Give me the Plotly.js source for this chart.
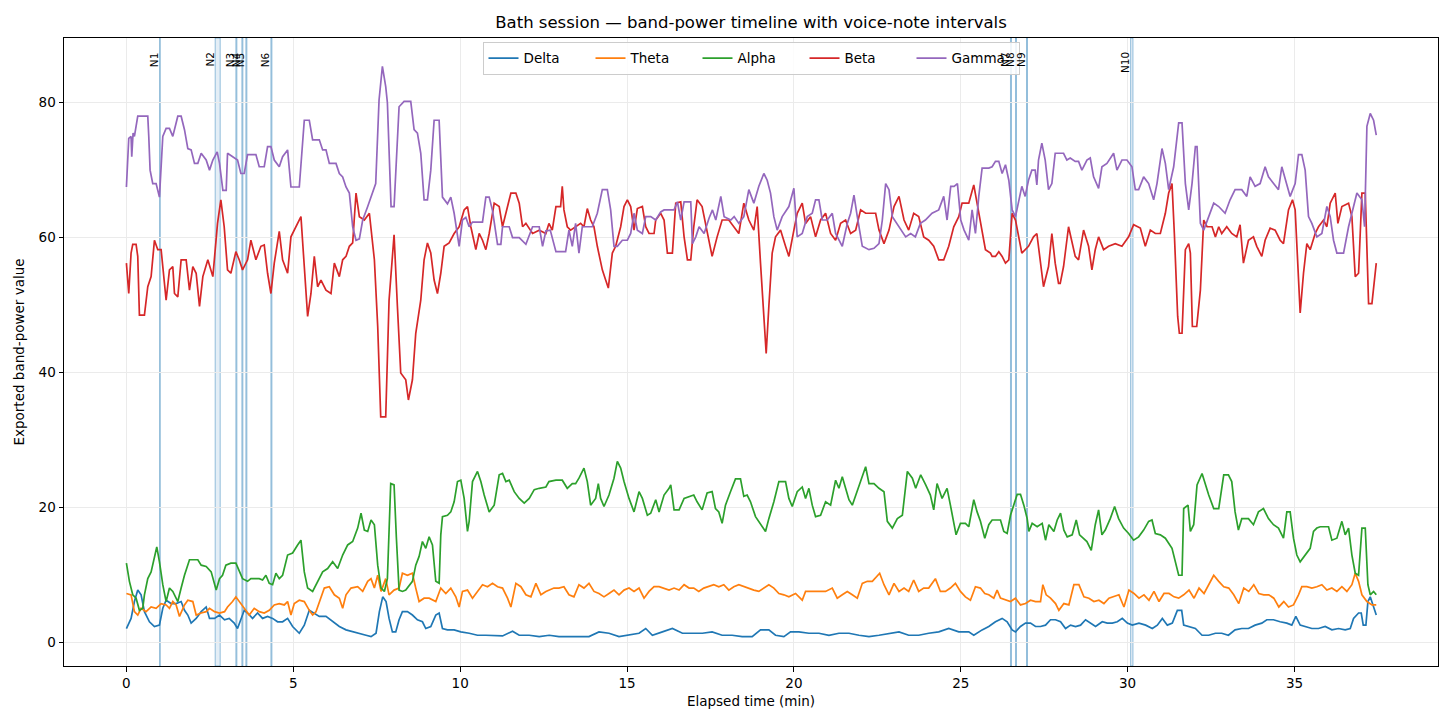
<!DOCTYPE html>
<html>
<head>
<meta charset="utf-8">
<script src="https://cdn.plot.ly/plotly-3.0.1.min.js"></script>
<style>html,body{margin:0;padding:0;background:#fff;}#chart{width:1456px;height:728px;}</style>
</head>
<body>
<div id="chart"></div>
<script>
// ---- data: [elapsed minutes, exported band-power value] ----
const deltaPts = [[0,2],[0.14,3.5],[0.24,6],[0.34,7.7],[0.44,7],[0.54,4.5],[0.69,3],[0.84,2.3],[0.99,2.5],[1.09,5],[1.19,6.2],[1.34,5.7],[1.49,5.7],[1.64,6],[1.74,4.7],[1.84,4],[1.94,2.8],[2.09,3.5],[2.24,4.5],[2.39,5.2],[2.49,3.5],[2.64,3.5],[2.79,4],[2.94,3.3],[3.08,3.5],[3.23,2.8],[3.33,2],[3.43,3.5],[3.53,4.7],[3.63,4.3],[3.78,3.5],[3.93,4.3],[4.08,3.5],[4.23,3.8],[4.38,3.5],[4.53,3],[4.68,3],[4.83,3.5],[4.98,2.3],[5.18,1.3],[5.33,2.5],[5.48,4.7],[5.63,4.3],[5.78,3.8],[5.98,3.8],[6.18,3],[6.38,2.3],[6.58,1.8],[6.78,1.5],[6.98,1.3],[7.18,1],[7.33,0.8],[7.48,1.3],[7.58,4.5],[7.68,6.7],[7.78,6],[7.87,3.5],[7.97,1.5],[8.07,1.5],[8.17,3.3],[8.27,4.5],[8.42,4.5],[8.57,4],[8.72,3.3],[8.87,3],[8.97,2],[9.12,2.3],[9.27,4],[9.37,4.3],[9.47,2],[9.62,1.8],[9.82,1.8],[10.02,1.5],[10.27,1.3],[10.52,1],[10.77,1],[11.07,1],[11.27,0.9],[11.57,1.6],[11.77,1],[12.07,1],[12.37,0.8],[12.67,1],[12.96,0.8],[13.26,0.8],[13.56,0.8],[13.86,0.8],[14.16,1.5],[14.46,1.3],[14.76,0.8],[15.06,1],[15.36,1.3],[15.56,2],[15.76,1],[16.06,1.5],[16.36,2],[16.66,1.3],[16.96,1.3],[17.26,1.3],[17.55,1.5],[17.85,1],[18.15,1],[18.45,0.8],[18.75,0.8],[19.0,1.8],[19.25,1.8],[19.45,1],[19.7,0.8],[19.9,1.5],[20.15,1.5],[20.45,1.3],[20.75,1.3],[21.05,1],[21.35,1.3],[21.65,1.3],[21.95,1],[22.25,0.8],[22.55,1],[22.85,1.3],[23.15,1.5],[23.44,1],[23.74,1],[24.04,1.3],[24.34,1.5],[24.64,2],[24.94,1.5],[25.24,1.5],[25.39,1],[25.64,1.8],[25.84,2.3],[26.04,3],[26.24,3.5],[26.39,3],[26.54,1.8],[26.64,1.5],[26.79,2.3],[26.94,2.8],[27.09,2.8],[27.24,2.3],[27.39,2.3],[27.54,2.5],[27.69,3.3],[27.84,3.3],[27.99,3],[28.14,2],[28.29,2.5],[28.44,2.3],[28.59,2.5],[28.74,3.3],[28.89,2.8],[29.04,2.3],[29.24,3],[29.39,2.8],[29.54,2.8],[29.69,3],[29.84,3.5],[29.99,2.8],[30.14,2.5],[30.34,2.8],[30.54,2.5],[30.74,2],[30.89,2.5],[31.04,3.5],[31.19,2.5],[31.34,2.8],[31.49,4.7],[31.62,4.7],[31.68,2.5],[31.83,2.3],[32.03,2],[32.23,1],[32.43,1],[32.63,1.3],[32.82,1.3],[33.02,1],[33.22,1.8],[33.42,2],[33.62,2],[33.82,2.5],[34.02,2.8],[34.17,3.3],[34.37,3.3],[34.57,3],[34.77,2.8],[34.92,2.5],[35.04,3.8],[35.17,2.5],[35.32,2.3],[35.52,2],[35.72,2],[35.92,2.3],[36.12,1.8],[36.32,2],[36.52,1.8],[36.67,2],[36.77,3.5],[36.92,4.3],[37.0,4.3],[37.06,2.5],[37.14,2.5],[37.2,6],[37.27,6.7],[37.37,5],[37.45,4]];

const thetaPts = [[0,7.2],[0.14,7],[0.24,4.5],[0.34,4],[0.44,5],[0.59,4.5],[0.74,5.2],[0.89,5],[1.04,5.7],[1.19,5.5],[1.29,5],[1.39,6],[1.49,5.5],[1.59,3.8],[1.74,5.5],[1.84,6.2],[1.99,6],[2.09,4],[2.24,4.3],[2.39,4.5],[2.49,5],[2.64,4.5],[2.79,4.3],[2.94,4.5],[3.03,5.2],[3.18,6],[3.28,6.7],[3.38,6],[3.53,5],[3.68,4],[3.83,5],[3.98,4.5],[4.13,4.3],[4.28,4.7],[4.43,5.5],[4.58,5.7],[4.73,5.5],[4.83,6],[4.93,4],[5.03,5.7],[5.18,6.2],[5.33,6],[5.48,4.7],[5.58,4],[5.68,4.5],[5.78,6],[5.93,8],[6.08,8.2],[6.23,7],[6.38,6.5],[6.48,5],[6.58,7],[6.73,8],[6.93,8.2],[7.08,7.5],[7.23,9],[7.33,9.4],[7.43,8],[7.53,9.9],[7.63,7.5],[7.77,9.4],[7.87,7],[8.02,7.7],[8.17,8],[8.27,10.2],[8.42,9.9],[8.57,10.2],[8.67,8],[8.77,6],[8.92,6.5],[9.07,6.5],[9.27,6],[9.42,8],[9.57,7.2],[9.72,8],[9.87,6.7],[9.97,5.2],[10.07,7.5],[10.22,7.7],[10.37,6.5],[10.52,7.5],[10.67,8.5],[10.82,8.2],[10.97,8.7],[11.12,8.2],[11.27,8],[11.42,6.5],[11.52,5.2],[11.67,8.7],[11.82,8.2],[11.97,7],[12.12,6.7],[12.27,8.7],[12.42,7],[12.57,7.5],[12.81,8],[12.96,8],[13.11,8.2],[13.26,7],[13.41,6.7],[13.56,8.5],[13.71,8],[13.86,8.7],[14.01,7.5],[14.16,7.2],[14.31,6.7],[14.46,7.2],[14.61,7.7],[14.76,7],[14.91,7.7],[15.06,8],[15.21,7.5],[15.36,8],[15.51,6.5],[15.66,7.5],[15.81,8.2],[15.96,8.2],[16.11,8],[16.26,7.7],[16.41,8],[16.56,7.7],[16.71,8.5],[16.86,8],[17.0,8],[17.15,7.5],[17.3,8],[17.45,8.2],[17.6,8.5],[17.75,8.2],[17.9,8.5],[18.05,7.7],[18.2,8.2],[18.35,8.5],[18.5,8.2],[18.65,8],[18.8,7.7],[18.95,7.5],[19.1,8],[19.25,8.5],[19.4,8],[19.55,7.2],[19.7,7],[19.85,6.7],[20.05,7.2],[20.25,6.2],[20.35,7.5],[20.55,7.5],[20.75,7.5],[20.95,7.5],[21.15,8],[21.3,6.5],[21.45,7],[21.6,7.5],[21.75,7],[21.9,6.5],[22.05,8.7],[22.2,9],[22.35,9],[22.5,9.9],[22.57,10.2],[22.7,8.5],[22.85,7],[23.0,8.7],[23.15,7.5],[23.3,8],[23.44,7.5],[23.59,9.2],[23.74,7.5],[23.89,8],[24.04,8],[24.24,9.4],[24.39,7.5],[24.54,7.5],[24.69,8],[24.84,8.7],[24.99,7.5],[25.14,6.7],[25.29,6.2],[25.44,8.2],[25.59,8],[25.72,7.2],[25.84,7],[25.99,6.5],[26.09,7.7],[26.19,6.5],[26.34,6.2],[26.49,6],[26.64,6.5],[26.79,5.5],[26.94,5.7],[27.09,6.2],[27.24,6],[27.39,6],[27.46,8.5],[27.56,7],[27.69,6.5],[27.84,5.7],[27.94,4.7],[28.09,5.7],[28.24,5.5],[28.39,8.5],[28.54,8.5],[28.69,6.7],[28.84,6.5],[28.99,6],[29.14,6.2],[29.29,5.7],[29.44,6.5],[29.59,6.7],[29.74,7],[29.89,5.2],[30.04,7.7],[30.19,7.2],[30.34,6.5],[30.49,7],[30.64,6.2],[30.79,7.5],[30.94,6],[31.09,7.2],[31.24,7.2],[31.39,6.7],[31.53,6.5],[31.68,7],[31.84,7.7],[31.99,6.5],[32.14,8],[32.29,7.2],[32.44,8.7],[32.58,9.9],[32.73,9],[32.88,8.2],[33.03,8],[33.18,7],[33.33,5.7],[33.48,8],[33.63,7.5],[33.78,8.5],[33.93,7.2],[34.08,7],[34.23,7],[34.38,6.5],[34.53,5.2],[34.68,6],[34.82,5.2],[34.97,5.5],[35.12,7],[35.22,8.2],[35.37,8.2],[35.52,8],[35.67,8.2],[35.82,8.5],[35.97,7.7],[36.12,8],[36.27,7.5],[36.42,8.2],[36.57,7.5],[36.72,8.5],[36.82,10.2],[36.92,9],[37.02,7],[37.17,6],[37.32,5.5],[37.45,5.5]];

const alphaPts = [[0,11.7],[0.09,9],[0.19,7],[0.29,6.5],[0.39,4.7],[0.49,5],[0.54,7],[0.64,9.4],[0.74,10.4],[0.84,12.9],[0.91,14.1],[0.99,11.9],[1.09,8.5],[1.19,6],[1.29,8],[1.39,7.5],[1.54,6],[1.64,8],[1.74,9.9],[1.89,12.2],[2.14,12.2],[2.24,11.4],[2.39,11.2],[2.54,10.4],[2.69,7.7],[2.79,9.4],[2.88,9.9],[2.98,11.4],[3.13,11.7],[3.28,11.7],[3.38,10.4],[3.48,9.4],[3.63,9],[3.73,9.4],[3.98,9.4],[4.08,9.2],[4.18,9.9],[4.28,8.7],[4.38,8.5],[4.48,10.2],[4.58,9.4],[4.68,9.9],[4.83,12.9],[4.98,13.2],[5.13,14.4],[5.23,15.1],[5.33,10.4],[5.43,8],[5.58,7.5],[5.73,9],[5.88,10.4],[6.03,10.9],[6.18,11.9],[6.33,10.9],[6.48,12.9],[6.63,14.4],[6.78,14.9],[6.93,16.9],[7.03,19.1],[7.13,16.6],[7.23,16.4],[7.33,18.1],[7.43,17.4],[7.53,11.4],[7.63,8],[7.73,7.5],[7.82,9.4],[7.92,23.5],[8.02,23.3],[8.09,15.4],[8.17,7.7],[8.27,7.5],[8.37,7.7],[8.57,9],[8.67,11.4],[8.77,12.7],[8.87,14.9],[8.97,13.9],[9.07,15.6],[9.17,14.4],[9.27,9],[9.37,8.7],[9.42,15.9],[9.47,18.6],[9.62,18.8],[9.72,19.3],[9.82,20.8],[9.92,23.8],[10.02,24],[10.12,21.3],[10.22,16.4],[10.27,17.9],[10.37,23.8],[10.52,25.3],[10.62,23.8],[10.72,21.8],[10.87,19.3],[11.02,20.3],[11.17,24.8],[11.27,25],[11.37,23.8],[11.47,24],[11.62,22.3],[11.77,21.3],[11.92,20.6],[12.07,21.3],[12.22,22.6],[12.37,22.8],[12.57,23],[12.66,23.8],[12.87,24],[13.06,24],[13.21,22.8],[13.36,23.5],[13.46,23.5],[13.56,24.3],[13.71,25.8],[13.81,23.8],[13.91,20.3],[14.06,21.3],[14.14,23.5],[14.21,21.3],[14.31,20.1],[14.46,21.8],[14.61,24.3],[14.71,26.8],[14.81,25.8],[14.91,23.8],[15.06,21.3],[15.21,19.3],[15.36,22.3],[15.46,21.3],[15.61,18.8],[15.71,19.1],[15.86,21.1],[15.96,19.3],[16.11,21.8],[16.26,22.8],[16.31,23.3],[16.41,19.6],[16.56,19.6],[16.71,21.3],[16.86,21.6],[17.0,21.8],[17.1,20.8],[17.25,19.6],[17.4,22.1],[17.55,22.3],[17.65,19.8],[17.75,19.3],[17.85,17.6],[17.95,20.3],[18.1,22.3],[18.25,24.2],[18.4,24.2],[18.5,21.6],[18.6,21.8],[18.7,20.8],[18.85,18.6],[19.0,17.4],[19.15,16.4],[19.25,18.3],[19.4,20.8],[19.55,23.8],[19.75,23.8],[19.85,21.3],[19.95,20.1],[20.1,22.3],[20.25,23],[20.35,21.3],[20.45,22.8],[20.55,20.3],[20.65,18.6],[20.8,18.8],[20.95,20.8],[21.1,20.3],[21.25,24],[21.35,22.8],[21.45,24.5],[21.55,22.8],[21.65,21.1],[21.75,20.3],[21.85,21.8],[22.0,23.8],[22.15,26],[22.25,23.5],[22.4,23.5],[22.55,22.8],[22.7,22.3],[22.8,17.9],[22.95,16.9],[23.1,18.3],[23.25,18.8],[23.4,25.3],[23.55,24.3],[23.65,22.8],[23.8,24.8],[23.95,23.3],[24.09,21.8],[24.19,19.6],[24.29,23.5],[24.44,21.3],[24.59,22.8],[24.69,20.3],[24.79,17.9],[24.86,15.9],[24.99,17.6],[25.14,17.6],[25.24,17.1],[25.39,21.1],[25.49,19.3],[25.59,17.9],[25.72,15.4],[25.84,17.4],[25.94,18.1],[26.19,18.1],[26.29,16.4],[26.39,16.1],[26.49,18.8],[26.59,20.3],[26.69,21.9],[26.79,21.9],[26.89,20.3],[26.99,18.3],[27.04,16.4],[27.14,17.6],[27.29,17.1],[27.44,17.6],[27.54,15.1],[27.64,17.4],[27.79,16.4],[27.89,18.1],[27.99,19.1],[28.09,16.6],[28.19,15.6],[28.34,15.9],[28.46,18.1],[28.56,15.9],[28.68,15.4],[28.78,14.9],[28.91,13.6],[29.03,17.4],[29.13,19.6],[29.23,15.9],[29.33,16.6],[29.48,18.3],[29.61,20.1],[29.73,18.3],[29.88,16.9],[30.03,16.1],[30.18,15.1],[30.33,15.6],[30.48,16.6],[30.63,17.9],[30.73,18.1],[30.83,16.1],[30.98,15.9],[31.13,15.4],[31.33,13.9],[31.43,11.9],[31.53,9.9],[31.63,9.9],[31.68,19.8],[31.81,20.3],[31.88,16.4],[31.98,17.4],[32.08,23.3],[32.23,25],[32.33,23.3],[32.43,21.8],[32.58,19.8],[32.73,19.8],[32.88,24.8],[33.02,24.8],[33.12,23.8],[33.22,19.3],[33.32,16.6],[33.42,18.3],[33.62,18.3],[33.77,17.4],[33.92,19.3],[34.07,19.8],[34.22,18.3],[34.37,17.4],[34.52,16.9],[34.67,15.4],[34.77,19.3],[34.87,19.3],[34.97,15.4],[35.07,12.9],[35.17,11.9],[35.32,12.9],[35.47,13.9],[35.57,16.4],[35.67,16.9],[35.77,17.1],[36.02,17.1],[36.12,15.1],[36.27,15.4],[36.42,17.9],[36.52,15.9],[36.62,16.9],[36.72,12.9],[36.82,10.2],[36.92,9.9],[37.02,16.9],[37.12,16.9],[37.2,8.5],[37.27,7],[37.37,7.5],[37.45,7]];

const betaPts = [[0,56.2],[0.07,51.7],[0.14,57.7],[0.19,59],[0.29,59],[0.34,57.2],[0.39,48.5],[0.54,48.5],[0.64,52.7],[0.74,54.2],[0.84,59.6],[0.94,58.2],[1.04,58.2],[1.14,53.7],[1.19,50.7],[1.29,55.2],[1.39,55.7],[1.44,51.7],[1.54,51.2],[1.64,56.7],[1.79,56.7],[1.89,52.2],[1.99,55.7],[2.09,54.7],[2.19,49.8],[2.29,54.2],[2.44,56.7],[2.59,54.2],[2.73,62.1],[2.83,65.6],[2.93,61.6],[3.03,55.2],[3.13,54.7],[3.28,57.9],[3.38,56.7],[3.48,55.2],[3.63,56.7],[3.73,59.6],[3.88,56.7],[4.03,58.7],[4.13,58.9],[4.23,54.7],[4.33,51.7],[4.43,56.2],[4.58,60.9],[4.68,56.7],[4.83,54.7],[4.93,60.1],[5.08,61.6],[5.23,63.1],[5.33,55.7],[5.43,48.3],[5.53,51.7],[5.63,57.2],[5.73,52.7],[5.83,53.7],[5.98,52.2],[6.13,51.7],[6.23,56.2],[6.38,54.2],[6.48,56.7],[6.58,57.2],[6.68,58.7],[6.78,59.2],[6.88,66.6],[6.98,63.1],[7.13,62.6],[7.28,63.6],[7.43,56.7],[7.53,46.8],[7.62,33.4],[7.77,33.4],[7.87,50.7],[8.02,60.4],[8.12,49.8],[8.22,39.9],[8.37,38.9],[8.45,35.9],[8.57,38.9],[8.67,45.8],[8.82,50.7],[8.92,56.7],[9.02,59.2],[9.12,57.7],[9.22,53.7],[9.32,51.7],[9.42,54.7],[9.52,58.7],[9.67,59.2],[9.82,60.6],[9.97,61.6],[10.12,64.1],[10.22,64.6],[10.32,61.6],[10.47,58.2],[10.57,60.6],[10.67,59.6],[10.77,58.2],[10.87,60.6],[11.02,65.1],[11.17,64.6],[11.27,61.6],[11.42,64.6],[11.52,66.6],[11.67,66.6],[11.77,65.1],[11.87,61.6],[11.97,62.1],[12.17,60.6],[12.37,61.1],[12.57,60.6],[12.66,62.1],[12.76,61.1],[12.87,64.6],[13.01,64.6],[13.06,67.6],[13.11,64.1],[13.21,61.6],[13.31,61.1],[13.46,61.6],[13.61,62.1],[13.71,61.6],[13.81,64.3],[13.91,62.6],[14.01,61.6],[14.11,58.7],[14.26,55.2],[14.36,53.7],[14.44,52.5],[14.56,57.7],[14.66,58.7],[14.81,61.6],[14.91,64.6],[15.01,65.6],[15.11,64.6],[15.21,61.1],[15.31,64.3],[15.46,64.6],[15.56,61.6],[15.66,60.6],[15.81,60.6],[15.86,62.6],[16.01,63.6],[16.11,62.6],[16.21,57.7],[16.36,57.7],[16.46,65.1],[16.61,65.3],[16.71,60.1],[16.81,56.7],[16.91,56.7],[17.0,61.6],[17.1,65.6],[17.25,64.6],[17.4,61.1],[17.55,57.2],[17.7,60.1],[17.85,62.6],[18.05,62.6],[18.2,61.6],[18.35,60.6],[18.5,65.1],[18.65,62.6],[18.8,61.1],[18.9,64.6],[19.0,56.2],[19.1,47.8],[19.17,42.8],[19.25,49.8],[19.35,57.7],[19.45,60.1],[19.6,61.1],[19.75,58.7],[19.85,57.2],[20.0,61.1],[20.1,63.6],[20.25,65.1],[20.35,62.1],[20.5,63.1],[20.65,60.1],[20.8,62.6],[20.95,63.6],[21.1,60.6],[21.25,59.6],[21.4,62.1],[21.55,62.6],[21.7,60.6],[21.85,61.1],[22.0,64.1],[22.15,63.6],[22.45,63.6],[22.55,61.1],[22.7,59.1],[22.85,61.1],[23.0,64.6],[23.15,66.1],[23.3,62.6],[23.44,61.1],[23.59,63.6],[23.74,63.1],[23.89,60.1],[24.04,59.6],[24.19,58.7],[24.34,56.7],[24.49,56.7],[24.64,58.7],[24.79,61.6],[24.94,63.1],[25.04,65.1],[25.24,65.1],[25.39,67.8],[25.49,65.1],[25.59,62.6],[25.74,58.2],[25.89,57.7],[25.94,57.2],[26.04,57.2],[26.14,57.9],[26.24,57.2],[26.34,56.2],[26.44,56.7],[26.54,63.6],[26.64,62.6],[26.74,59.7],[26.83,57.7],[27.03,58.7],[27.18,60.1],[27.28,60.6],[27.38,56.7],[27.48,52.7],[27.63,55.7],[27.73,60.6],[27.83,56.2],[27.93,53.2],[27.98,53.2],[28.08,55.7],[28.23,61.6],[28.33,59.6],[28.43,57.2],[28.53,56.7],[28.68,61.1],[28.83,58.7],[28.93,55.2],[29.03,58.2],[29.13,60.1],[29.28,58.2],[29.43,58.7],[29.63,59.1],[29.83,58.7],[30.03,60.1],[30.18,61.9],[30.38,61.4],[30.53,58.7],[30.68,61.1],[30.83,60.6],[30.98,60.6],[31.13,63.6],[31.23,66.6],[31.33,68],[31.4,60.6],[31.5,48.3],[31.55,45.8],[31.63,45.8],[31.73,58.2],[31.83,59.1],[31.88,57.7],[31.94,46.8],[32.07,46.8],[32.18,52.2],[32.28,62.6],[32.38,61.6],[32.53,61.6],[32.63,60.1],[32.73,61.6],[32.82,60.6],[32.97,61.6],[33.12,60.6],[33.27,60.1],[33.37,61.9],[33.47,56.2],[33.62,59.6],[33.77,60.1],[33.87,58.7],[34.02,57.2],[34.12,59.6],[34.27,61.4],[34.42,61.1],[34.57,59.6],[34.67,59.1],[34.82,64.1],[34.94,65.6],[35.02,64.1],[35.1,55.7],[35.17,48.8],[35.27,54.7],[35.37,59.1],[35.47,58.2],[35.62,60.6],[35.72,61.6],[35.87,62.6],[35.97,61.6],[36.07,65.1],[36.22,66.6],[36.3,62.1],[36.42,64.6],[36.62,65.1],[36.72,63.1],[36.82,54.2],[36.92,54.7],[37.02,66.6],[37.12,66.6],[37.22,50.2],[37.32,50.2],[37.45,56.2]];

const gammaPts = [[0,67.5],[0.07,74.7],[0.14,75],[0.16,72],[0.2,75.5],[0.24,75],[0.34,78],[0.5,78],[0.64,78],[0.67,75],[0.71,70],[0.79,68],[0.89,68],[0.99,66],[1.09,75],[1.19,76.2],[1.29,76.2],[1.39,75],[1.54,78],[1.64,78],[1.74,76],[1.84,73.2],[1.94,73],[2.04,71],[2.14,71],[2.24,72.5],[2.39,71.5],[2.49,70],[2.59,71.5],[2.72,72.7],[2.79,71],[2.89,67],[2.99,67],[3.03,72.5],[3.18,72],[3.33,71.5],[3.43,69.5],[3.53,69.5],[3.63,72.3],[3.88,72.3],[3.98,70.5],[4.13,70.5],[4.23,73.5],[4.33,73.5],[4.43,71.5],[4.58,70.5],[4.68,72],[4.83,73],[4.93,67.5],[5.18,67.5],[5.33,77.4],[5.48,77.4],[5.58,74.5],[5.78,74.5],[5.88,73],[5.98,73],[6.08,71],[6.28,71],[6.38,69.5],[6.48,69],[6.58,67.5],[6.68,66.6],[6.78,61.6],[6.88,59.6],[6.98,59.8],[7.08,62.6],[7.23,64.6],[7.38,66.6],[7.47,68],[7.57,80.4],[7.67,85.4],[7.77,82.4],[7.82,80],[7.93,64.6],[8.02,64.6],[8.17,79.4],[8.32,80.2],[8.52,80.2],[8.62,76],[8.72,75.5],[8.82,72.5],[8.92,65.6],[9.02,65.6],[9.12,70],[9.22,77.4],[9.37,77.4],[9.47,66],[9.62,65],[9.72,66],[9.82,63.6],[9.97,58.7],[10.07,62.6],[10.17,63],[10.27,61.6],[10.37,62.3],[10.67,62.3],[10.77,66],[10.87,66],[10.97,64],[11.12,59],[11.22,59],[11.27,61.6],[11.47,61.6],[11.57,60],[11.77,60],[11.97,59],[12.17,61.6],[12.37,61.6],[12.47,58.7],[12.57,61],[12.7,61.1],[12.87,57.9],[13.16,57.9],[13.26,61.1],[13.36,58.7],[13.46,62.1],[13.56,57.7],[13.66,61.6],[13.96,61.6],[14.11,63.6],[14.26,67.1],[14.41,67.1],[14.51,64.1],[14.61,58.7],[14.71,58.7],[14.86,59.6],[15.01,59.6],[15.11,60.6],[15.21,63.6],[15.31,61.1],[15.46,60.6],[15.56,63.1],[15.71,63.1],[15.86,62.6],[16.01,63.8],[16.11,64.1],[16.41,64.1],[16.51,65.3],[16.61,62.6],[16.71,65.3],[16.91,65.3],[16.96,59.1],[17.06,60.1],[17.16,61.6],[17.31,60.6],[17.46,62.9],[17.56,64.1],[17.66,62.6],[17.81,66.1],[17.91,63.1],[18.11,62.6],[18.21,63.1],[18.35,62.1],[18.5,63.1],[18.65,67.1],[18.8,65.1],[18.95,67.6],[19.1,69.5],[19.2,68.5],[19.3,66.6],[19.4,63.1],[19.5,61.1],[19.65,63.1],[19.85,64.6],[20.0,67.3],[20.1,60.1],[20.25,60.6],[20.4,63.1],[20.55,63.6],[20.65,65.6],[20.75,65.6],[20.85,62.6],[21.0,62.6],[21.15,63.6],[21.25,60.6],[21.45,58.7],[21.6,62.1],[21.7,63.6],[21.8,66.3],[21.9,63.1],[22.05,58.7],[22.25,58.2],[22.4,58.4],[22.55,59.1],[22.65,62.6],[22.75,68],[22.85,67.1],[22.95,63.1],[23.15,61.6],[23.35,60.1],[23.5,60.6],[23.64,60.1],[23.79,62.1],[23.94,62.6],[24.14,63.6],[24.34,64.1],[24.49,66.1],[24.59,62.6],[24.7,67.6],[24.8,67.6],[24.9,68],[25.0,62.6],[25.1,61.1],[25.24,59.6],[25.34,64.1],[25.44,60.6],[25.54,66.1],[25.64,70.3],[25.84,70.3],[25.94,70.5],[26.04,71.3],[26.14,71.3],[26.24,69.5],[26.34,70.8],[26.44,68.5],[26.54,64.1],[26.64,63.1],[26.74,65.6],[26.83,67.6],[26.93,66.1],[27.03,68.5],[27.13,70],[27.23,70],[27.28,67.8],[27.33,71.5],[27.43,74],[27.53,71.5],[27.63,67.1],[27.73,68],[27.83,72.5],[28.08,72.5],[28.18,71.5],[28.28,71.8],[28.43,71.3],[28.53,71.3],[28.63,70],[28.78,71.5],[28.88,71.8],[28.98,69],[29.13,67.3],[29.23,70.5],[29.38,71],[29.58,72.5],[29.68,70],[29.83,71.5],[29.98,71.5],[30.13,70.5],[30.23,67.1],[30.33,67.1],[30.48,69],[30.63,68],[30.78,65.6],[30.88,68],[31.03,73.2],[31.13,71],[31.23,67.1],[31.38,70.5],[31.53,77],[31.63,77],[31.73,68],[31.83,64.1],[31.93,68],[32.03,73.5],[32.08,73.5],[32.18,62.1],[32.28,61.1],[32.43,63.1],[32.58,65.1],[32.73,64.6],[32.92,63.6],[33.07,65.6],[33.22,67.1],[33.42,67.1],[33.57,66.1],[33.67,69],[33.82,67.6],[33.97,68],[34.12,70.5],[34.22,69],[34.37,68],[34.52,67.1],[34.62,70.5],[34.77,67.6],[34.87,66.1],[35.02,68],[35.12,72.3],[35.22,72.3],[35.32,70],[35.42,63.1],[35.52,62.1],[35.67,60.1],[35.82,60.6],[35.97,64.6],[36.07,63.1],[36.17,59.6],[36.27,57.7],[36.47,57.7],[36.62,61.6],[36.77,64.6],[36.87,66.6],[37.02,65.6],[37.1,61.6],[37.17,76.5],[37.27,78.4],[37.37,77.4],[37.45,75.2]];

const bandNames  = ["Delta", "Theta", "Alpha", "Beta", "Gamma"];
const bandColors = ["#1f77b4", "#ff7f0e", "#2ca02c", "#d62728", "#9467bd"];

const noteLabels = ["N1","N2","N3","N4","N5","N6","N7","N8","N9","N10"];
const noteStart  = [1.00, 2.66, 3.28, 3.46, 3.58, 4.33, 26.49, 26.64, 26.97, 30.09];
const noteEnd    = [1.01, 2.81, 3.31, 3.49, 3.61, 4.36, 26.52, 26.67, 27.00, 30.16];

const xTicks = [0, 5, 10, 15, 20, 25, 30, 35];
const yTicks = [0, 20, 40, 60, 80];

// ---- build ----
const series = [deltaPts, thetaPts, alphaPts, betaPts, gammaPts];
const traces = series.map((pts, i) => ({
  type: "scatter", mode: "lines", name: bandNames[i],
  x: pts.map(p => p[0]), y: pts.map(p => p[1]),
  line: {color: bandColors[i], width: 1.7},
  hoverinfo: "skip"
}));

const shapes = noteLabels.map((lab, i) => ({
  type: "rect", xref: "x", yref: "paper",
  x0: noteStart[i], x1: noteEnd[i], y0: 0, y1: 1,
  fillcolor: "rgba(31,119,180,0.12)",
  line: {color: "rgba(31,119,180,0.45)", width: 1},
  layer: "below"
}));

const annotations = noteLabels.map((lab, i) => ({
  text: lab, x: noteStart[i], xref: "x", y: 0.981, yref: "paper",
  xanchor: "center", yanchor: "top", xshift: -5,
  textangle: -90, showarrow: false,
  font: {family: "DejaVu Sans", size: 10.5, color: "#000"}
}));

const axisCommon = {
  showline: true, mirror: true, linecolor: "#000", linewidth: 1,
  ticks: "outside", ticklen: 4.5, tickwidth: 1, tickcolor: "#000",
  showgrid: true, gridcolor: "#ebebeb", gridwidth: 1, zeroline: false,
  tickfont: {family: "DejaVu Sans", size: 13.5, color: "#000"}
};

const layout = {
  width: 1456, height: 728,
  margin: {l: 64, r: 18, t: 38, b: 62},
  paper_bgcolor: "#fff", plot_bgcolor: "#fff",
  font: {family: "DejaVu Sans", color: "#000"},
  title: {text: "Bath session — band-power timeline with voice-note intervals",
          font: {family: "DejaVu Sans", size: 16.5, color: "#000"},
          x: 0.5, xref: "paper", y: 0.97, yref: "container", yanchor: "middle"},
  xaxis: Object.assign({}, axisCommon, {
    range: [-1.87, 39.3], tickvals: xTicks, ticktext: xTicks.map(String),
    title: {text: "Elapsed time (min)", font: {family: "DejaVu Sans", size: 13.5}, standoff: 6}
  }),
  yaxis: Object.assign({}, axisCommon, {
    range: [-3.56, 89.6], tickvals: yTicks, ticktext: yTicks.map(String),
    title: {text: "Exported band-power value", font: {family: "DejaVu Sans", size: 13.5}, standoff: 10}
  }),
  legend: {
    orientation: "h", x: 0.5, xanchor: "center", y: 0.994, yanchor: "top",
    bgcolor: "rgba(255,255,255,0.85)", bordercolor: "#cccccc", borderwidth: 1,
    font: {family: "DejaVu Sans", size: 13.5, color: "#000"},
    itemwidth: 30, entrywidth: 62, entrywidthmode: "pixels", tracegroupgap: 0
  },
  shapes: shapes,
  annotations: annotations,
  showlegend: true
};

Plotly.newPlot("chart", traces, layout, {staticPlot: true, displayModeBar: false});
</script>
</body>
</html>
